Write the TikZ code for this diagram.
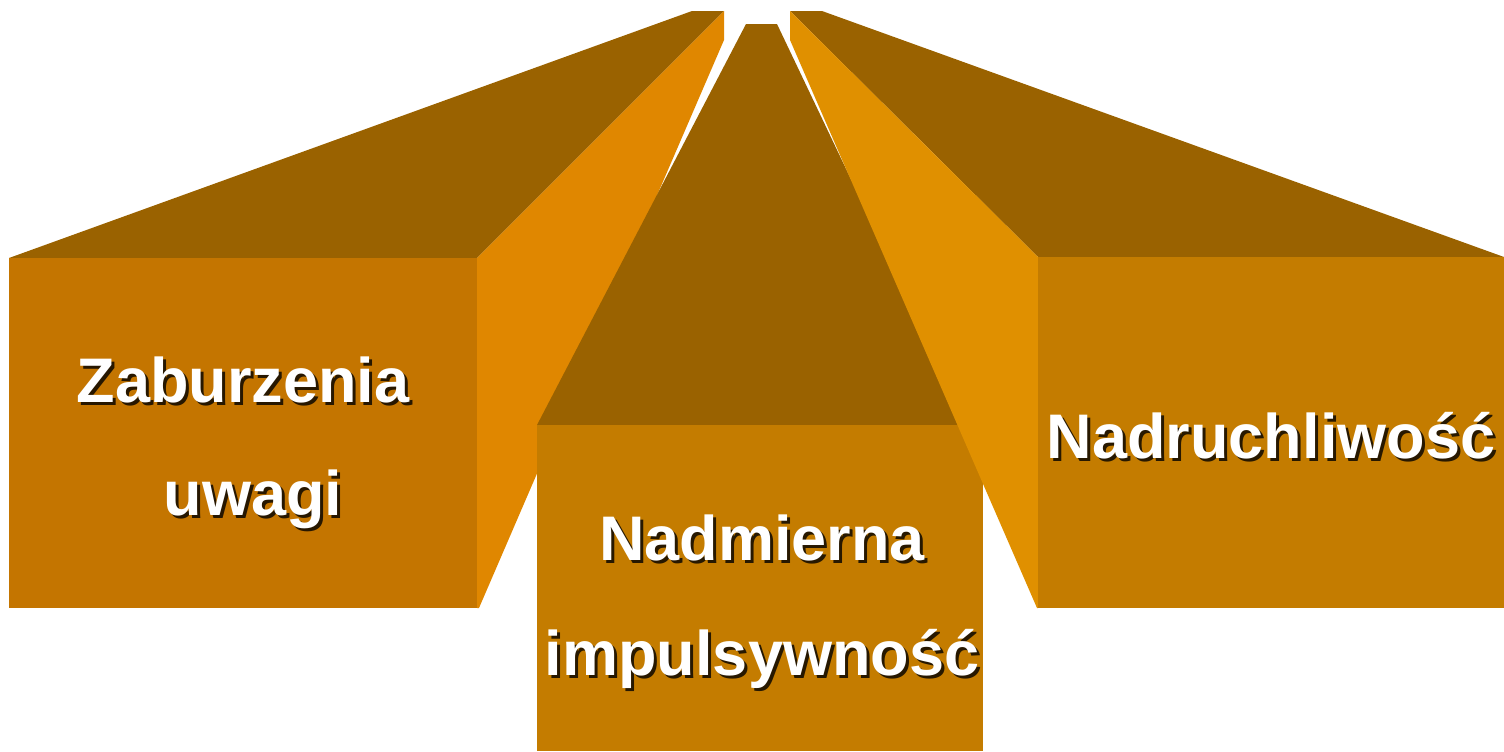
\documentclass[tikz,border=0pt]{standalone}
\usepackage{fontspec}
\setmainfont{Liberation Sans}
\definecolor{topdark}{RGB}{154,98,0}
\definecolor{frontL}{RGB}{196,117,0}
\definecolor{frontM}{RGB}{196,124,0}
\definecolor{sideL}{RGB}{224,135,0}
\definecolor{sideR}{RGB}{224,144,0}
\tikzset{
  lbl/.style={anchor=base, inner sep=0pt, text=white, font=\fontsize{31.5pt}{36pt}\selectfont\bfseries},
  lblsh/.style={anchor=base, inner sep=0pt, text=black, opacity=0.8, font=\fontsize{31.5pt}{36pt}\selectfont\bfseries}
}
\newcommand{\shtext}[4]{%
  \node[lblsh] (#1s) at (#2+3,#3+3) {#4};
  \node[lbl] (#1) at (#2,#3) {#4};
}
\begin{document}
\begin{tikzpicture}[x=0.5pt,y=-0.5pt]
\useasboundingbox (0,0) rectangle (1504,751);
% left block
\fill[topdark] (9,258) -- (692,11) -- (724,11) -- (477,258) -- cycle;
\fill[sideL] (477,258) -- (724,11) -- (724,40) -- (479,608) -- (477,608) -- cycle;
\fill[frontL] (9,258) rectangle (477,608);
% middle block
\fill[topdark] (537,425) -- (746,24) -- (777,24) -- (968,425) -- cycle;
\fill[frontM] (537,425) rectangle (983,751);
% right block
\fill[topdark] (790,11) -- (822,11) -- (1504,257) -- (1038,257) -- cycle;
\fill[sideR] (790,11) -- (1038,257) -- (1038,608) -- (1037,608) -- (790,40) -- cycle;
\fill[frontM] (1038,257) rectangle (1504,608);
% labels
\shtext{za}{243}{402}{Zaburzenia}
\shtext{uw}{253}{515}{uwagi}
\shtext{nm}{762}{560}{Nadmierna}
\shtext{im}{762}{675}{impulsywność}
\shtext{nr}{1271}{458}{Nadruchliwość}
\end{tikzpicture}
\end{document}
